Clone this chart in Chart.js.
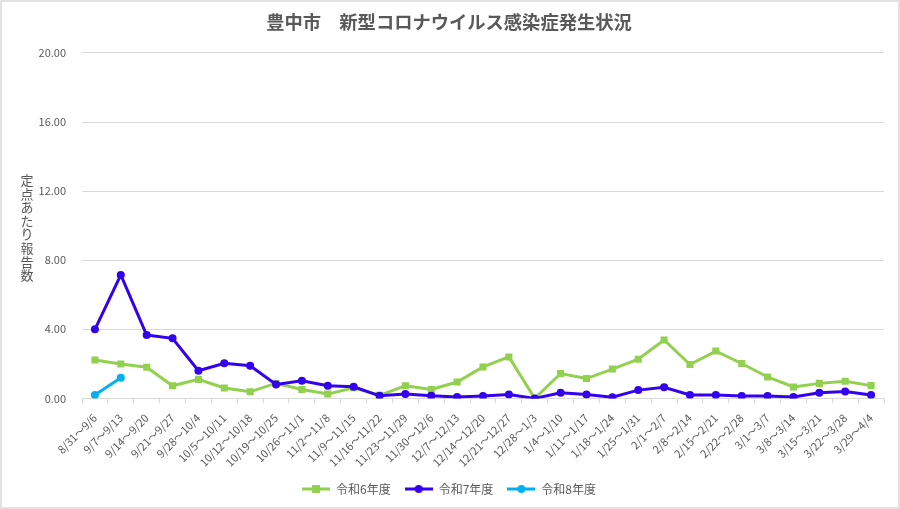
<!DOCTYPE html>
<html>
<head>
<meta charset="utf-8">
<script src="https://cdn.jsdelivr.net/npm/chart.js@4.4.1/dist/chart.umd.min.js"></script>
<style>
  html, body { margin: 0; padding: 0; background: #fff; }
  #wrap { width: 900px; height: 509px; position: relative; }
</style>
</head>
<body>
<div id="wrap"><canvas id="covidGraph"></canvas></div>
<script>
const weeks = [
  "8/31～9/6", "9/7～9/13", "9/14～9/20", "9/21～9/27", "9/28～10/4",
  "10/5～10/11", "10/12～10/18", "10/19～10/25", "10/26～11/1", "11/2～11/8",
  "11/9～11/15", "11/16～11/22", "11/23～11/29", "11/30～12/6", "12/7～12/13",
  "12/14～12/20", "12/21～12/27", "12/28～1/3", "1/4～1/10", "1/11～1/17",
  "1/18～1/24", "1/25～1/31", "2/1～2/7", "2/8～2/14", "2/15～2/21",
  "2/22～2/28", "3/1～3/7", "3/8～3/14", "3/15～3/21", "3/22～3/28", "3/29～4/4",
];
const r6 = [
  2.22, 1.99, 1.80, 0.73, 1.10, 0.60, 0.38, 0.88, 0.52, 0.25,
  0.62, 0.18, 0.73, 0.52, 0.95, 1.82, 2.40, 0.00, 1.44, 1.15,
  1.70, 2.27, 3.38, 1.96, 2.74, 2.02, 1.24, 0.66, 0.87, 0.99, 0.74,
];
const r7 = [
  4.00, 7.15, 3.67, 3.48, 1.60, 2.03, 1.89, 0.81, 1.02, 0.73,
  0.67, 0.15, 0.25, 0.15, 0.08, 0.14, 0.23, 0.00, 0.33, 0.23,
  0.07, 0.48, 0.64, 0.20, 0.20, 0.14, 0.14, 0.08, 0.33, 0.40, 0.20,
];
const r8 = [0.20, 1.20];
const yTicks = [0, 4, 8, 12, 16, 20];

const FONT = "'Noto Sans CJK JP', 'Noto Sans', sans-serif";
const GREEN = "#92d050";
const BLUE = "#3300f0";
const CYAN = "#00b0f0";
const TEXT = "#595959";
const GRID = "#d9d9d9";

// legend swatch: short line with the series marker on it
function swatch(color, square) {
  const c = document.createElement("canvas");
  c.width = 28;
  c.height = 10;
  const g = c.getContext("2d");
  g.strokeStyle = color;
  g.lineWidth = 3;
  g.beginPath();
  g.moveTo(0, 5);
  g.lineTo(28, 5);
  g.stroke();
  g.fillStyle = color;
  if (square) {
    g.fillRect(10, 1, 8, 8);
  } else {
    g.beginPath();
    g.arc(14, 5, 4, 0, Math.PI * 2);
    g.fill();
  }
  return c;
}

const frame = {
  id: "frame",
  beforeDraw(chart) {
    const { ctx, width, height } = chart;
    ctx.save();
    ctx.fillStyle = "#fff";
    ctx.fillRect(0, 0, width, height);
    ctx.restore();
  },
  afterDraw(chart) {
    const { ctx, width, height } = chart;
    ctx.save();
    ctx.strokeStyle = GRID;
    ctx.lineWidth = 1.5;
    ctx.strokeRect(1, 1, width - 2, height - 2);
    // vertical y-axis title, upright characters
    const text = "定点あたり報告数";
    ctx.fillStyle = TEXT;
    ctx.font = "13px " + FONT;
    ctx.textAlign = "center";
    ctx.textBaseline = "middle";
    [...text].forEach((ch, i) => {
      ctx.fillText(ch, 27, 180 + i * 13.6);
    });
    ctx.restore();
  },
};

const ctx = document.getElementById("covidGraph").getContext("2d");

new Chart(ctx, {
  type: "line",
  data: {
    labels: weeks,
    datasets: [
      {
        label: "令和6年度",
        data: r6,
        borderColor: GREEN,
        backgroundColor: GREEN,
        borderWidth: 3,
        pointStyle: "rect",
        pointRadius: 5,
        pointBorderWidth: 0,
        tension: 0,
        order: 3,
      },
      {
        label: "令和7年度",
        data: r7,
        borderColor: BLUE,
        backgroundColor: BLUE,
        borderWidth: 3,
        pointStyle: "circle",
        pointRadius: 4,
        pointBorderWidth: 0,
        tension: 0,
        order: 2,
      },
      {
        label: "令和8年度",
        data: r8,
        borderColor: CYAN,
        backgroundColor: CYAN,
        borderWidth: 3,
        pointStyle: "circle",
        pointRadius: 4,
        pointBorderWidth: 0,
        tension: 0,
        order: 1,
      },
    ],
  },
  options: {
    responsive: true,
    maintainAspectRatio: false,
    animation: false,
    layout: {
      padding: { left: 14, right: 16, top: 0, bottom: 4 },
    },
    plugins: {
      title: {
        display: true,
        text: "豊中市　新型コロナウイルス感染症発生状況",
        color: TEXT,
        font: { family: FONT, size: 18.3, weight: "bold" },
        padding: { top: 11, bottom: 20 },
      },
      legend: {
        display: true,
        position: "bottom",
        labels: {
          color: TEXT,
          font: { family: FONT, size: 12 },
          usePointStyle: true,
          pointStyleWidth: 28,
          boxHeight: 10,
          padding: 14,
          sort: (a, b) => a.datasetIndex - b.datasetIndex,
          generateLabels(chart) {
            const items = Chart.defaults.plugins.legend.labels.generateLabels(chart);
            const marks = [swatch(GREEN, true), swatch(BLUE, false), swatch(CYAN, false)];
            items.forEach((it) => {
              it.pointStyle = marks[it.datasetIndex];
            });
            return items;
          },
        },
      },
      tooltip: { enabled: false },
    },
    scales: {
      x: {
        offset: true,
        grid: {
          display: true,
          offset: true,
          drawOnChartArea: false,
          drawTicks: true,
          tickLength: 5,
          color: GRID,
        },
        border: { display: true, color: GRID },
        ticks: {
          color: TEXT,
          font: { family: FONT, size: 11 },
          maxRotation: 45,
          minRotation: 45,
          autoSkip: false,
          padding: 8,
        },
        afterFit(scale) {
          scale.height = 70.6;
        },
      },
      y: {
        min: 0,
        max: 20,
        afterBuildTicks(scale) {
          scale.ticks = yTicks.map((v) => ({ value: v }));
        },
        grid: {
          color: GRID,
          drawTicks: false,
        },
        border: { display: false },
        ticks: {
          color: TEXT,
          font: { family: FONT, size: 11 },
          padding: 16,
          callback: (v) => Number(v).toFixed(2),
        },
        afterFit(scale) {
          scale.width = 68;
        },
      },
    },
  },
  plugins: [frame],
});
</script>
</body>
</html>
